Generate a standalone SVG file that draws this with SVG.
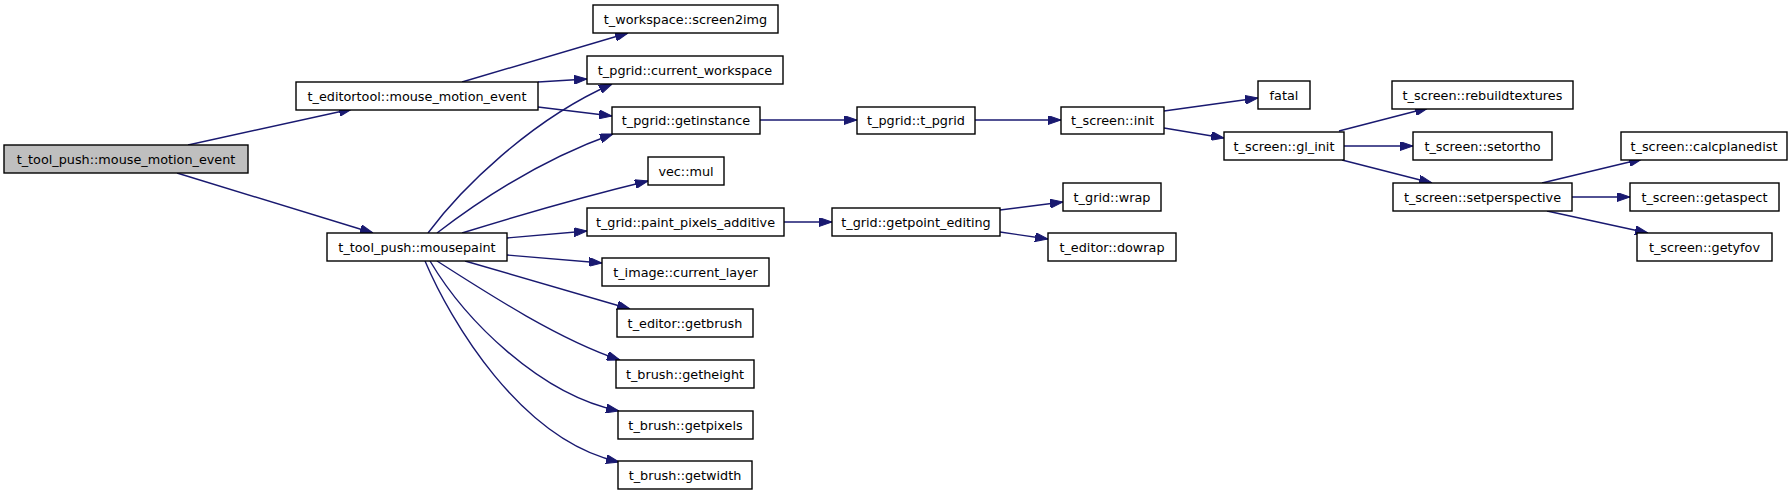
<svg xmlns="http://www.w3.org/2000/svg" width="1791" height="493" viewBox="0 0 1791 493">
<style>
.n rect{fill:#ffffff;stroke:#000000;stroke-width:1.4}
.n.root rect{fill:#bfbfbf}
.n text{font-family:"DejaVu Sans","Liberation Sans",sans-serif;font-size:12.8px;fill:#000000;text-anchor:middle}
#edges path{fill:none;stroke:#191970;stroke-width:1.4;marker-end:url(#ah)}
</style>
<defs>
<marker id="ah" viewBox="0 0 13 9" refX="13" refY="4.5" markerWidth="13" markerHeight="9" markerUnits="userSpaceOnUse" orient="auto">
<path d="M0,0 L13,4.5 L0,9 z" fill="#191970" stroke="#191970" stroke-width="1"/>
</marker>
</defs>
<rect width="1791" height="493" fill="#ffffff"/>
<g id="edges">
<path d="M188,145 L352,109"/>
<path d="M177,173 L373,233"/>
<path d="M462,82 L628,33"/>
<path d="M538,82 L587,79"/>
<path d="M538,107 L612,116"/>
<path d="M428,233 C460,190 530,120 612,84"/>
<path d="M437,233 C480,200 540,160 613,134"/>
<path d="M462,233 C520,215 590,195 648,181"/>
<path d="M507,238 L587,231"/>
<path d="M507,255 L602,263"/>
<path d="M465,261 L630,309"/>
<path d="M437,261 C490,295 560,340 620,360"/>
<path d="M430,261 C465,320 540,395 619,411"/>
<path d="M425,261 C450,320 520,440 619,462"/>
<path d="M760,120 L857,120"/>
<path d="M975,120 L1061,120"/>
<path d="M1164,111 L1258,98"/>
<path d="M1164,128 L1224,138"/>
<path d="M1339,131 L1428,108"/>
<path d="M1344,146 L1413,146"/>
<path d="M1342,160 L1432,183"/>
<path d="M1542,183 L1642,159"/>
<path d="M1572,197 L1630,197"/>
<path d="M1547,211 L1648,233"/>
<path d="M784,222 L832,222"/>
<path d="M1000,210 L1063,202"/>
<path d="M1000,232 L1048,239"/>
</g>
<g id="n_root" class="n root"><rect x="4" y="145" width="244" height="28"/><text x="126" y="163.5">t_tool_push::mouse_motion_event</text></g>
<g id="n_editortool" class="n"><rect x="296" y="82" width="242" height="28"/><text x="417" y="100.5">t_editortool::mouse_motion_event</text></g>
<g id="n_screen2img" class="n"><rect x="593" y="5" width="185" height="28"/><text x="685.5" y="23.5">t_workspace::screen2img</text></g>
<g id="n_current_workspace" class="n"><rect x="587" y="56" width="196" height="28"/><text x="685" y="74.5">t_pgrid::current_workspace</text></g>
<g id="n_getinstance" class="n"><rect x="612" y="107" width="148" height="27"/><text x="686" y="125">t_pgrid::getinstance</text></g>
<g id="n_vecmul" class="n"><rect x="648" y="157" width="76" height="28"/><text x="686" y="175.5">vec::mul</text></g>
<g id="n_paint" class="n"><rect x="587" y="208" width="197" height="28"/><text x="685.5" y="226.5">t_grid::paint_pixels_additive</text></g>
<g id="n_mousepaint" class="n"><rect x="327" y="233" width="180" height="28"/><text x="417" y="251.5">t_tool_push::mousepaint</text></g>
<g id="n_current_layer" class="n"><rect x="602" y="258" width="167" height="28"/><text x="685.5" y="276.5">t_image::current_layer</text></g>
<g id="n_getbrush" class="n"><rect x="617" y="309" width="136" height="28"/><text x="685" y="327.5">t_editor::getbrush</text></g>
<g id="n_getheight" class="n"><rect x="616" y="360" width="138" height="28"/><text x="685" y="378.5">t_brush::getheight</text></g>
<g id="n_getpixels" class="n"><rect x="618" y="411" width="135" height="28"/><text x="685.5" y="429.5">t_brush::getpixels</text></g>
<g id="n_getwidth" class="n"><rect x="618" y="461" width="134" height="28"/><text x="685" y="479.5">t_brush::getwidth</text></g>
<g id="n_t_pgrid" class="n"><rect x="857" y="107" width="118" height="27"/><text x="916" y="125">t_pgrid::t_pgrid</text></g>
<g id="n_init" class="n"><rect x="1061" y="107" width="103" height="27"/><text x="1112.5" y="125">t_screen::init</text></g>
<g id="n_fatal" class="n"><rect x="1258" y="81" width="52" height="28"/><text x="1284" y="99.5">fatal</text></g>
<g id="n_gl_init" class="n"><rect x="1224" y="132" width="120" height="28"/><text x="1284" y="150.5">t_screen::gl_init</text></g>
<g id="n_getpoint" class="n"><rect x="832" y="208" width="168" height="28"/><text x="916" y="226.5">t_grid::getpoint_editing</text></g>
<g id="n_wrap" class="n"><rect x="1063" y="183" width="98" height="28"/><text x="1112" y="201.5">t_grid::wrap</text></g>
<g id="n_dowrap" class="n"><rect x="1048" y="233" width="128" height="28"/><text x="1112" y="251.5">t_editor::dowrap</text></g>
<g id="n_rebuild" class="n"><rect x="1392" y="81" width="181" height="28"/><text x="1482.5" y="99.5">t_screen::rebuildtextures</text></g>
<g id="n_setortho" class="n"><rect x="1413" y="132" width="139" height="28"/><text x="1482.5" y="150.5">t_screen::setortho</text></g>
<g id="n_setpersp" class="n"><rect x="1393" y="183" width="179" height="28"/><text x="1482.5" y="201.5">t_screen::setperspective</text></g>
<g id="n_calcplane" class="n"><rect x="1621" y="132" width="166" height="28"/><text x="1704" y="150.5">t_screen::calcplanedist</text></g>
<g id="n_getaspect" class="n"><rect x="1630" y="183" width="149" height="28"/><text x="1704.5" y="201.5">t_screen::getaspect</text></g>
<g id="n_getyfov" class="n"><rect x="1637" y="233" width="135" height="28"/><text x="1704.5" y="251.5">t_screen::getyfov</text></g>
</svg>
